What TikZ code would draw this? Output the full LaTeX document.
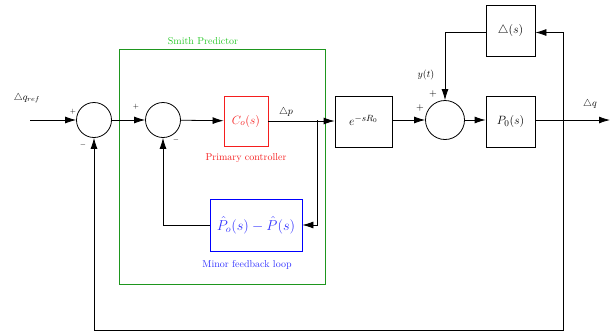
\documentclass[tikz,border=0pt]{standalone}
\usepackage{amsmath}
\usetikzlibrary{arrows.meta}
\definecolor{smithtext}{RGB}{40,200,40}
\definecolor{smithframe}{RGB}{30,150,30}
\definecolor{ctrlred}{RGB}{245,30,30}
\definecolor{loopblue}{RGB}{50,50,255}
\begin{document}
\begin{tikzpicture}[x=1pt,y=-1pt,
  arr/.style={-{Latex[length=11pt,width=7pt]},line width=0.8pt},
  sumnode/.style={circle,draw,line width=0.8pt,minimum size=35pt,inner sep=0pt},
  blockbox/.style={draw,line width=0.8pt,minimum width=49pt,minimum height=51pt,inner sep=0pt},
  sign/.style={font=\scriptsize,inner sep=0pt},
  bigsign/.style={font=\normalsize,inner sep=0pt}]
\useasboundingbox (0,0) rectangle (610,333);
% frame
\node[draw=smithframe,line width=0.8pt,minimum width=206.5pt,minimum height=235pt,inner sep=0pt] (smith) at (222.25,166.5) {};
\node[text=smithtext] (smithlbl) at (203,41) {Smith Predictor};
% summing junctions
\node[sumnode] (sum1) at (94,120) {};
\node[sumnode] (sum2) at (163,120) {};
\node[sumnode,minimum size=39pt] (sum3) at (445,120) {};
% blocks
\node[blockbox,draw=ctrlred,minimum width=44pt,minimum height=50pt,text=ctrlred,font=\fontsize{13}{15}\selectfont] (co) at (246,121) {$C_o(s)$};
\node[text=ctrlred] (colbl) at (246,158) {Primary controller};
\node[blockbox,minimum width=57pt,font=\fontsize{13}{15}\selectfont] (delay) at (363.5,122) {\raisebox{3pt}{$e^{-sR_0}$}};
\node[blockbox,font=\fontsize{12.5}{15}\selectfont] (p0) at (510.5,121.5) {$P_0(s)$};
\node[blockbox,font=\fontsize{12.5}{15}\selectfont] (delta) at (510.5,30.5) {$\triangle(s)$};
\node[blockbox,draw=blue,minimum width=92pt,minimum height=52pt,text=loopblue,font=\fontsize{14}{17}\selectfont] (pm) at (256,225) {$\hat{P}_o(s)-\hat{P}(s)$};
\node[text=loopblue] (pmlbl) at (247,265) {Minor feedback loop};
% coordinates
\coordinate (in) at (30,120);
\coordinate (out) at (610,120);
\coordinate (b1) at (317,120);
\coordinate (b2) at (563,120);
\coordinate (br) at (563,330);
\coordinate (bl) at (94,330);
% connectors
\draw[arr] (in) -- (sum1);
\draw[arr] (sum1) -- (sum2);
\draw[arr] (sum2) -- (co);
\draw[arr] (co) -- (delay.west |- co.east);
\draw[arr] (delay.east |- sum3) -- (sum3);
\draw[arr] (sum3) -- (p0.west |- sum3);
\draw[arr] (p0.east |- sum3) -- (out);
\draw[arr] (b1) |- (pm.east);
\draw[arr] (pm.west) -| (sum2.south);
\draw[arr] (b2) |- ([yshift=-2pt]delta.east);
\draw[arr] ([yshift=-2pt]delta.west) -| (sum3.north);
\draw[arr] (b2) -- (br) -- (bl) -- (sum1.south);
% signal labels
\node (qref) at (27,98) {$\triangle q_{ref}$};
\node (dp) at (286,112) {$\triangle p$};
\node (yt) at (426,75) {$y(t)$};
\node (dq) at (590,104) {$\triangle q$};
% signs
\node[sign] (s1p) at (73,112) {$+$};
\node[sign] (s1m) at (83,145) {$-$};
\node[sign] (s2p) at (136,107) {$+$};
\node[sign] (s2m) at (176,140) {$-$};
\node[bigsign] (s3t) at (433,94) {$+$};
\node[bigsign] (s3l) at (420,108) {$+$};
\end{tikzpicture}
\end{document}
